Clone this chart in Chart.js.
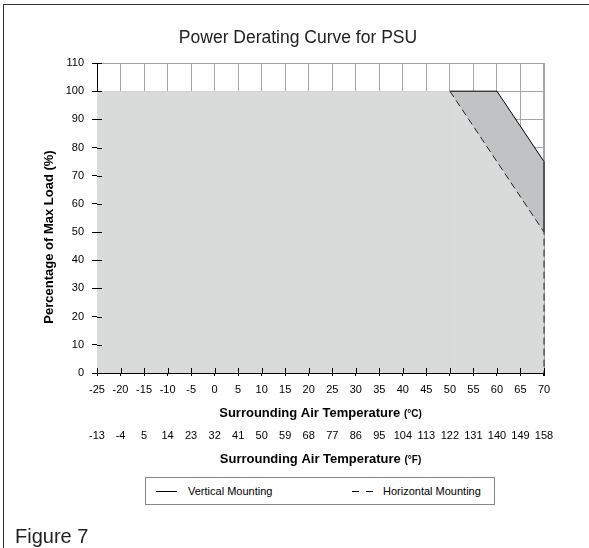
<!DOCTYPE html>
<html>
<head>
<meta charset="utf-8">
<title>Power Derating Curve for PSU</title>
<script src="https://cdn.jsdelivr.net/npm/chart.js@4.4.0/dist/chart.umd.min.js"></script>
<style>
    html, body { margin: 0; padding: 0; background: #fff; }
    #wrap { position: relative; width: 589px; height: 548px; overflow: hidden; font-family: "Liberation Sans", Arial, sans-serif; }
    #frame { position: absolute; left: 3px; top: 4px; width: 700px; height: 700px; border-left: 1px solid #333; border-top: 1px solid #333; }
    #myChart { position: absolute; left: 0; top: 0; }
    #legend { position: absolute; left: 145px; top: 477px; width: 350px; height: 28px; box-sizing: border-box; border: 1px solid #888; background: #fff; }
    .item { position: absolute; top: 0; height: 26px; line-height: 26px; font-size: 11px; color: #000; }
    .sample { position: absolute; top: 13px; height: 0; border-top: 1px solid #000; }
    #figure { position: absolute; left: 15px; top: 526px; font-size: 20px; line-height: 20px; color: #222; }
</style>
</head>
<body>
<div id="wrap">
    <div id="frame"></div>
    <canvas id="myChart" width="589" height="548"></canvas>
    <div id="legend">
        <div class="sample" style="left: 10px; width: 21px;"></div>
        <div class="item" style="left: 42px;">Vertical Mounting</div>
        <div class="sample" style="left: 206px; width: 7px;"></div>
        <div class="sample" style="left: 220px; width: 7px;"></div>
        <div class="item" style="left: 237px;">Horizontal Mounting</div>
    </div>
    <div id="figure">Figure 7</div>
</div>
<script>
// datos
const verticalTemp = [-25, 50, 60, 70, 70];
const verticalLoad = [100, 100, 100, 75, 50];
const horizontalTemp = [-25, 50, 70, 70];
const horizontalLoad = [100, 100, 50, 0];
const fahrenheitLabels = ['-13', '-4', '5', '14', '23', '32', '41', '50', '59', '68',
    '77', '86', '95', '104', '113', '122', '131', '140', '149', '158'];

Chart.defaults.font.family = "'Liberation Sans', Arial, sans-serif";
Chart.defaults.color = '#000';

const toPoints = (xs, ys) => xs.map((x, i) => ({ x: x, y: ys[i] }));

// marcas de eje hacia dentro del area
const innerTicks = {
    id: 'innerTicks',
    afterDatasetsDraw(chart) {
        const { ctx, chartArea, scales } = chart;
        ctx.save();
        ctx.strokeStyle = '#000';
        ctx.lineWidth = 1;
        ctx.beginPath();
        scales.x.ticks.forEach(t => {
            const px = Math.round(scales.x.getPixelForValue(t.value)) + 0.5;
            ctx.moveTo(px, chartArea.bottom);
            ctx.lineTo(px, chartArea.bottom - 5);
        });
        scales.y.ticks.forEach(t => {
            const py = Math.round(scales.y.getPixelForValue(t.value)) + 0.5;
            ctx.moveTo(chartArea.left, py);
            ctx.lineTo(chartArea.left + 5, py);
        });
        ctx.stroke();
        ctx.restore();
    }
};

function drawMixedTitle(ctx, cx, y, main, small) {
    ctx.font = "bold 13px 'Liberation Sans', Arial, sans-serif";
    const w1 = ctx.measureText(main).width;
    ctx.font = "bold 10px 'Liberation Sans', Arial, sans-serif";
    const w2 = ctx.measureText(small).width;
    let x = cx - (w1 + w2) / 2;
    ctx.textAlign = 'left';
    ctx.textBaseline = 'alphabetic';
    ctx.font = "bold 13px 'Liberation Sans', Arial, sans-serif";
    ctx.fillText(main, x, y);
    ctx.font = "bold 10px 'Liberation Sans', Arial, sans-serif";
    ctx.fillText(small, x + w1, y);
}

// titulos de ejes
const axisTitles = {
    id: 'axisTitles',
    afterDraw(chart) {
        const { ctx, chartArea, scales } = chart;
        const cx = (chartArea.left + chartArea.right) / 2;
        ctx.save();
        ctx.fillStyle = '#000';
        drawMixedTitle(ctx, cx, scales.x.top + 44, 'Surrounding Air Temperature ', '(°C)');
        drawMixedTitle(ctx, cx, scales.xF.top + 40, 'Surrounding Air Temperature ', '(°F)');

        ctx.translate(scales.y.left - 3, (chartArea.top + chartArea.bottom) / 2 + 19);
        ctx.rotate(-Math.PI / 2);
        ctx.font = "bold 13px 'Liberation Sans', Arial, sans-serif";
        ctx.textAlign = 'center';
        ctx.textBaseline = 'middle';
        ctx.fillText('Percentage of Max Load (%)', 0, 0);
        ctx.restore();
    }
};

const ctx = document.getElementById('myChart').getContext('2d');

new Chart(ctx, {
    type: 'line',
    data: {
        datasets: [{
            label: 'Vertical Mounting',
            data: toPoints(verticalTemp, verticalLoad),
            borderColor: '#000',
            borderWidth: 1,
            backgroundColor: '#c1c2c3',
            fill: 'origin',
            pointRadius: 0,
            order: 2,
            clip: 4,
            segment: {
                borderColor: c => c.p0DataIndex === 0 ? 'transparent' : (c.p0DataIndex === 3 ? '#555' : undefined),
                borderWidth: c => c.p0DataIndex === 3 ? 2 : undefined
            }
        }, {
            label: 'Horizontal Mounting',
            data: toPoints(horizontalTemp, horizontalLoad),
            borderColor: '#222',
            borderWidth: 1,
            borderDash: [7, 4],
            backgroundColor: '#d9dada',
            fill: 'origin',
            pointRadius: 0,
            order: 1,
            clip: 4,
            segment: {
                borderColor: c => c.p0DataIndex === 0 ? 'transparent' : undefined
            }
        }]
    },
    options: {
        responsive: false,
        animation: false,
        events: [],
        layout: {
            padding: { left: 52, right: 45, top: 0, bottom: 78 }
        },
        plugins: {
            legend: { display: false },
            tooltip: { enabled: false },
            title: {
                display: true,
                text: 'Power Derating Curve for PSU',
                color: '#222',
                font: { size: 17.5, weight: 'normal' },
                padding: { top: 28, bottom: 14 }
            }
        },
        scales: {
            x: {
                type: 'linear',
                position: 'bottom',
                min: -25,
                max: 70,
                weight: 0,
                ticks: { stepSize: 5, autoSkip: false, maxRotation: 0, padding: 7, font: { size: 11 } },
                grid: {
                    color: '#a6a6a6',
                    lineWidth: c => c.tick && c.tick.value === 70 ? 2 : 1,
                    tickColor: '#000',
                    tickLength: 3
                },
                border: { color: '#000', width: 1 },
                afterFit: scale => { scale.height = 50; }
            },
            xF: {
                type: 'linear',
                position: 'bottom',
                min: -25,
                max: 70,
                weight: 1,
                ticks: {
                    stepSize: 5, autoSkip: false, maxRotation: 0, padding: 6, font: { size: 11 },
                    callback: (v, i) => fahrenheitLabels[i]
                },
                grid: { display: false, drawTicks: false },
                border: { display: false },
                afterFit: scale => { scale.height = 47; }
            },
            y: {
                min: 0,
                max: 110,
                ticks: { stepSize: 10, padding: 8, font: { size: 11 } },
                grid: { color: '#a6a6a6', tickColor: '#000', tickLength: 5 },
                border: { color: '#000', width: 1 },
                afterFit: scale => { scale.width = 45; }
            }
        }
    },
    plugins: [innerTicks, axisTitles]
});
</script>
</body>
</html>
